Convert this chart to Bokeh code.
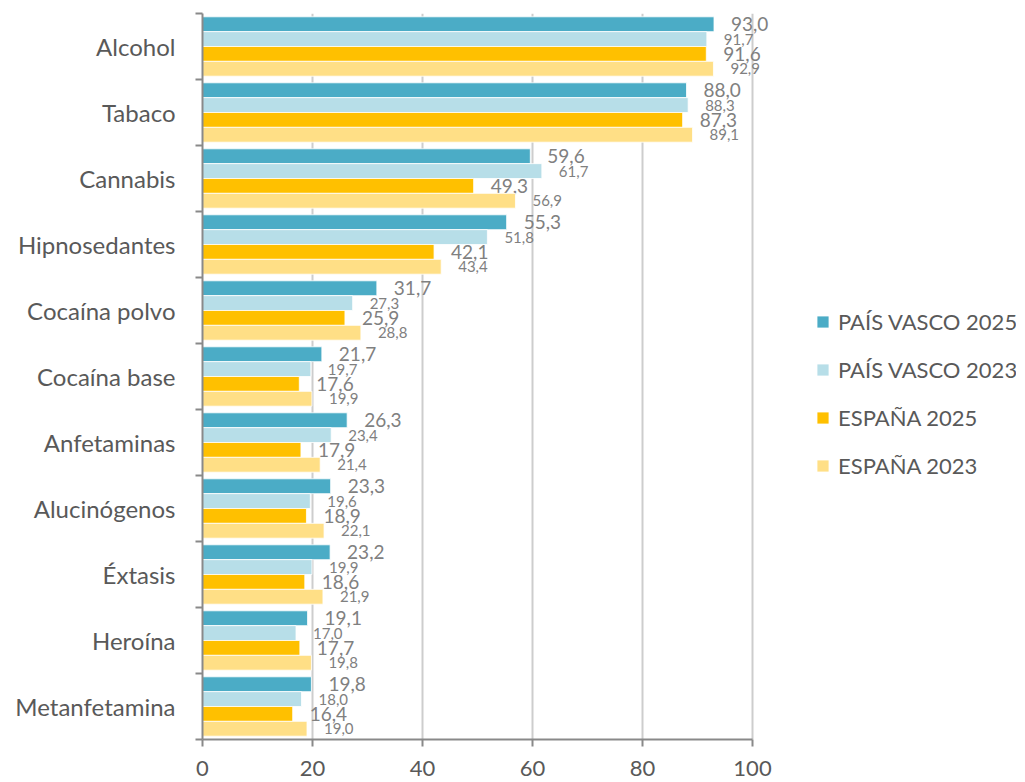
from bokeh.plotting import figure
from bokeh.models import (ColumnDataSource, Range1d, FixedTicker, Legend, LegendItem)
from bokeh.core.properties import value
from bokeh.embed import file_html
from bokeh.resources import INLINE

categories = ["Alcohol", "Tabaco", "Cannabis", "Hipnosedantes", "Cocaína polvo",
              "Cocaína base", "Anfetaminas", "Alucinógenos", "Éxtasis", "Heroína",
              "Metanfetamina"]
pv2025 = [93.0, 88.0, 59.6, 55.3, 31.7, 21.7, 26.3, 23.3, 23.2, 19.1, 19.8]
pv2023 = [91.7, 88.3, 61.7, 51.8, 27.3, 19.7, 23.4, 19.6, 19.9, 17.0, 18.0]
es2025 = [91.6, 87.3, 49.3, 42.1, 25.9, 17.6, 17.9, 18.9, 18.6, 17.7, 16.4]
es2023 = [92.9, 89.1, 56.9, 43.4, 28.8, 19.9, 21.4, 22.1, 21.9, 19.8, 19.0]
series_names = ["PAÍS VASCO 2025", "PAÍS VASCO 2023", "ESPAÑA 2025", "ESPAÑA 2023"]
x_ticks = [0, 20, 40, 60, 80, 100]

series = [pv2025, pv2023, es2025, es2023]
colors = ["#4BACC6", "#B7DEE8", "#FFC000", "#FFDF86"]
label_sizes = ["19px", "15px", "19px", "15px"]
offsets = [-0.3375, -0.1125, 0.1125, 0.3375]
bar_h = 0.225
FONT = "Lato"
n = len(categories)

p = figure(width=1016, height=780, output_backend="svg", toolbar_location=None,
           x_range=Range1d(0, 148), y_range=Range1d(n, 0),
           min_border_left=202, min_border_right=0,
           min_border_top=13, min_border_bottom=41)
p.outline_line_color = None
p.background_fill_color = "white"

items = []
for s, col, fs, off, name in zip(series, colors, label_sizes, offsets, series_names):
    ys = [i + 0.5 + off for i in range(n)]
    src = ColumnDataSource(dict(x=s, y=ys,
                                lab=[f"{v:.1f}".replace(".", ",") for v in s]))
    r = p.hbar(y="y", right="x", left=0, height=bar_h, source=src,
               fill_color=col, line_color="white", line_width=0.8)
    p.text(x="x", y="y", text="lab", source=src, x_offset=17,
           text_align="left", text_baseline="middle", text_font_size=fs,
           text_color="#808080", text_font=value(FONT))
    items.append(LegendItem(label=name, renderers=[r]))

# x axis
xa = p.xaxis[0]
xa.ticker = FixedTicker(ticks=x_ticks)
xa.bounds = (0, 100)
xa.axis_line_color = "#898989"
xa.axis_line_width = 2
xa.major_tick_line_color = "#898989"
xa.major_tick_line_width = 2
xa.major_tick_out = 7
xa.major_tick_in = 0
xa.minor_tick_line_color = None
xa.major_label_text_font = FONT
xa.major_label_text_font_size = "22px"
xa.major_label_text_color = "#595959"
xa.major_label_standoff = 14

# y axis
ya = p.yaxis[0]
ya.ticker = FixedTicker(ticks=[i + 0.5 for i in range(n)],
                        minor_ticks=list(range(n + 1)))
ya.major_label_overrides = {i + 0.5: c for i, c in enumerate(categories)}
ya.axis_line_color = "#898989"
ya.axis_line_width = 2
ya.major_tick_line_color = None
ya.major_tick_out = 0
ya.major_tick_in = 0
ya.minor_tick_line_color = "#898989"
ya.minor_tick_line_width = 2
ya.minor_tick_out = 7
ya.minor_tick_in = 0
ya.major_label_text_font = FONT
ya.major_label_text_font_size = "24px"
ya.major_label_text_color = "#595959"
ya.major_label_standoff = 20

p.xgrid.ticker = FixedTicker(ticks=x_ticks[1:])
p.xgrid.grid_line_color = "#CDCDCD"
p.xgrid.grid_line_width = 2
p.xgrid.bounds = (0, 100)
p.ygrid.grid_line_color = None

legend = Legend(items=items, location=(613, 260), orientation="vertical",
                label_text_font=FONT, label_text_font_size="22px",
                label_text_color="#595959", glyph_width=15, glyph_height=15,
                label_height=22, spacing=21, padding=0, margin=0,
                label_standoff=8, border_line_color=None,
                background_fill_alpha=0)
p.add_layout(legend, "center")

open("out.html", "w").write(file_html(p, INLINE))
